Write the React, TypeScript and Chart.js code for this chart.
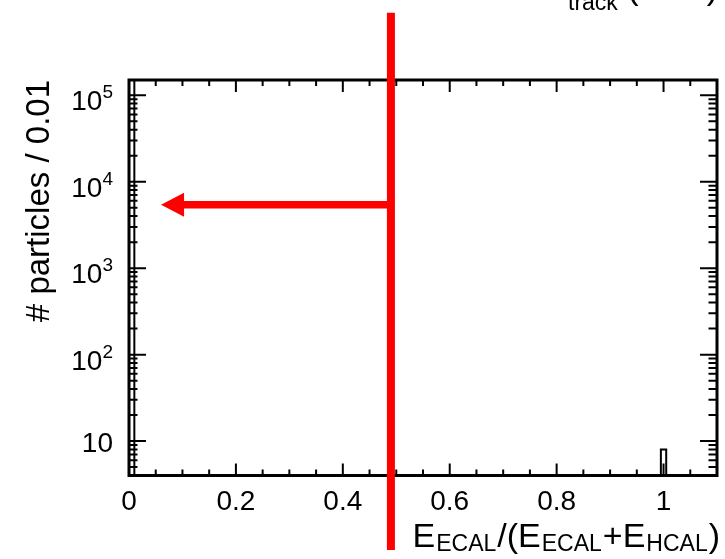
import { useEffect, useRef } from "react";
import { Chart, registerables } from "chart.js";

Chart.register(...registerables);

const FONT = '"Liberation Sans", Arial, Helvetica, sans-serif';

// Histogram of E_ECAL/(E_ECAL+E_HCAL), bins of 0.01; only filled bins listed
const binWidth = 0.01;
const filledBinCenters = [0.005, 1.0];
const filledBinCounts = [260000, 8];

// x axis
const xMin = 0;
const xMax = 1.1;
const xMajorTicks = [0, 0.2, 0.4, 0.6, 0.8, 1.0];
const xTickLabels = ["0", "0.2", "0.4", "0.6", "0.8", "1"];
const xMinorStep = 0.05;

// y axis (logarithmic)
const yMin = 4;
const yMax = 1.5e5;
const yMajorTicks = [10, 100, 1000, 10000, 100000];
const yTickBase = ["10", "10", "10", "10", "10"];
const yTickExp = ["", "2", "3", "4", "5"];

// selection cut and the arrow pointing to the kept region
const cutValue = 0.49;
const cutLineLow = 0.55;
const cutLineHigh = 9e5;
const arrowTipX = 0.06;
const arrowY = 5400;

type Part = { t: string; size: number; dy: number; gap?: number };

function partsWidth(ctx: CanvasRenderingContext2D, parts: Part[]) {
  let w = 0;
  for (const p of parts) {
    ctx.font = `${p.size}px ${FONT}`;
    w += ctx.measureText(p.t).width + (p.gap ?? 0);
  }
  return w;
}

function drawParts(ctx: CanvasRenderingContext2D, parts: Part[], x: number, y: number) {
  let cx = x;
  for (const p of parts) {
    ctx.font = `${p.size}px ${FONT}`;
    ctx.textAlign = "left";
    ctx.textBaseline = "alphabetic";
    ctx.fillText(p.t, cx, y + p.dy);
    cx += ctx.measureText(p.t).width + (p.gap ?? 0);
  }
}

function buildOutline() {
  const pts: { x: number; y: number | null }[] = [];
  filledBinCenters.forEach((c, i) => {
    const lo = c - binWidth / 2;
    const hi = c + binWidth / 2;
    const v = Math.max(filledBinCounts[i], yMin);
    pts.push({ x: lo, y: yMin }, { x: lo, y: v }, { x: hi, y: v }, { x: hi, y: yMin });
    pts.push({ x: hi, y: null });
  });
  return pts;
}

const frameAndLabels = {
  id: "frameAndLabels",
  afterDatasetsDraw(chart: any) {
    const ctx: CanvasRenderingContext2D = chart.ctx;
    const xs = chart.scales.x;
    const ys = chart.scales.y;
    const { left, right, top, bottom } = chart.chartArea;
    ctx.save();
    ctx.strokeStyle = "#000";
    ctx.fillStyle = "#000";

    // tick marks, drawn inward on all four sides
    ctx.lineWidth = 2;
    ctx.beginPath();
    const nMinor = Math.round((xMax - xMin) / xMinorStep);
    for (let i = 0; i <= nMinor; i++) {
      const v = xMin + i * xMinorStep;
      const isMajor = Math.abs(v / 0.2 - Math.round(v / 0.2)) < 1e-6;
      const len = isMajor ? 12 : 6;
      const px = xs.getPixelForValue(v);
      if (px <= left + 1 || px >= right - 1) continue;
      ctx.moveTo(px, bottom);
      ctx.lineTo(px, bottom - len);
      ctx.moveTo(px, top);
      ctx.lineTo(px, top + len);
    }
    for (let e = 0; e <= 5; e++) {
      for (let k = 1; k <= 9; k++) {
        const v = k * Math.pow(10, e);
        if (v < yMin || v > yMax) continue;
        const len = k === 1 ? 17 : 8.5;
        const py = ys.getPixelForValue(v);
        ctx.moveTo(left, py);
        ctx.lineTo(left + len, py);
        ctx.moveTo(right, py);
        ctx.lineTo(right - len, py);
      }
    }
    ctx.stroke();

    // frame
    ctx.lineWidth = 3;
    ctx.strokeRect(left, top, right - left, bottom - top);

    // x tick labels
    ctx.font = `28px ${FONT}`;
    ctx.textAlign = "center";
    ctx.textBaseline = "alphabetic";
    xMajorTicks.forEach((v, i) => {
      ctx.fillText(xTickLabels[i], xs.getPixelForValue(v), 510);
    });

    // y tick labels with exponents
    yMajorTicks.forEach((v, i) => {
      const py = ys.getPixelForValue(v);
      const parts: Part[] = [{ t: yTickBase[i], size: 28, dy: 0 }];
      if (yTickExp[i]) parts.push({ t: yTickExp[i], size: 19, dy: -12 });
      const w = partsWidth(ctx, parts);
      const base = yTickExp[i] ? py + 15 : py + 11;
      drawParts(ctx, parts, 113 - w, base);
    });

    // axis titles
    const xTitle: Part[] = [
      { t: "E", size: 34, dy: 0, gap: 1 },
      { t: "ECAL", size: 23, dy: 4, gap: 1 },
      { t: "/(E", size: 34, dy: 0, gap: 1 },
      { t: "ECAL", size: 23, dy: 4, gap: 1 },
      { t: "+E", size: 34, dy: 0, gap: 1 },
      { t: "HCAL", size: 23, dy: 4, gap: 1 },
      { t: ")", size: 34, dy: 0 },
    ];
    const xw = partsWidth(ctx, xTitle);
    drawParts(ctx, xTitle, 720 - xw, 547);

    ctx.save();
    ctx.translate(49, top);
    ctx.rotate(-Math.PI / 2);
    ctx.font = `33px ${FONT}`;
    ctx.textAlign = "right";
    ctx.textBaseline = "alphabetic";
    ctx.fillText("# particles / 0.01", 0, 0);
    ctx.restore();

    // label running off the top edge
    ctx.font = `34px ${FONT}`;
    ctx.textAlign = "left";
    ctx.fillText("E", 545, -3);
    ctx.font = `23px ${FONT}`;
    ctx.fillText("track", 568, 9.5);
    ctx.font = `34px ${FONT}`;
    ctx.textAlign = "right";
    ctx.fillText("(GeV)", 718, -1);

    // cut line and arrow
    const cx = xs.getPixelForValue(cutValue);
    ctx.strokeStyle = "#ff0000";
    ctx.fillStyle = "#ff0000";
    ctx.lineCap = "butt";
    ctx.lineWidth = 8;
    ctx.beginPath();
    ctx.moveTo(cx, ys.getPixelForValue(cutLineLow));
    ctx.lineTo(cx, ys.getPixelForValue(cutLineHigh));
    ctx.stroke();

    const ay = ys.getPixelForValue(arrowY);
    const tip = xs.getPixelForValue(arrowTipX);
    const headLen = 23;
    const headHalf = 12;
    ctx.lineWidth = 7.5;
    ctx.beginPath();
    ctx.moveTo(cx, ay);
    ctx.lineTo(tip + headLen - 1, ay);
    ctx.stroke();
    ctx.beginPath();
    ctx.moveTo(tip, ay);
    ctx.lineTo(tip + headLen, ay - headHalf);
    ctx.lineTo(tip + headLen, ay + headHalf);
    ctx.closePath();
    ctx.fill();

    ctx.restore();
  },
};

export default function App() {
  const ref = useRef<HTMLCanvasElement | null>(null);

  useEffect(() => {
    if (!ref.current) return;
    const chart = new Chart(ref.current, {
      type: "scatter",
      data: {
        datasets: [
          {
            data: buildOutline() as any,
            showLine: true,
            borderColor: "#000",
            borderWidth: 2,
            pointRadius: 0,
            spanGaps: false,
            tension: 0,
            clip: 0 as any,
          },
        ],
      },
      options: {
        responsive: false,
        animation: false,
        devicePixelRatio: 1,
        events: [],
        layout: { padding: { left: 129, right: 8, top: 80, bottom: 83.5 } },
        scales: {
          x: { type: "linear", min: xMin, max: xMax, display: false },
          y: { type: "logarithmic", min: yMin, max: yMax, display: false },
        },
        plugins: { legend: { display: false }, tooltip: { enabled: false } },
      },
      plugins: [frameAndLabels],
    });
    return () => chart.destroy();
  }, []);

  return (
    <div style={{ position: "fixed", left: 0, top: 0, width: 725, height: 559, background: "#fff" }}>
      <canvas ref={ref} width={725} height={559} style={{ display: "block" }} />
    </div>
  );
}
